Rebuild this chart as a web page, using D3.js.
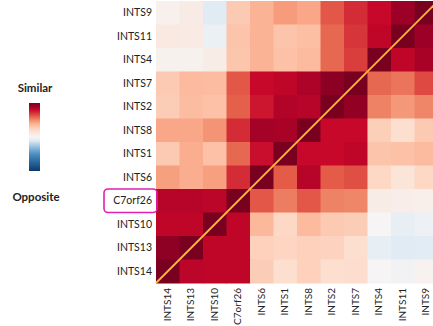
<!DOCTYPE html>
<html>
<head>
<meta charset="utf-8">
<script src="https://cdn.jsdelivr.net/npm/d3@7"></script>
<style>
  html, body { margin: 0; padding: 0; background: #fff; }
  svg { display: block; }
  text { font-family: Lato, "Open Sans", sans-serif; fill: #222; }
</style>
</head>
<body>
<svg id="chart" width="433" height="326"></svg>
<script>
// Row labels (top to bottom) and column labels (left to right)
const rowLabels = ["INTS9", "INTS11", "INTS4", "INTS7", "INTS2", "INTS8", "INTS1", "INTS6", "C7orf26", "INTS10", "INTS13", "INTS14"];
const colLabels = ["INTS14", "INTS13", "INTS10", "C7orf26", "INTS6", "INTS1", "INTS8", "INTS2", "INTS7", "INTS4", "INTS11", "INTS9"];

// Similarity scores, one array per row, in column order
const similarity = [
  [0.04, 0.08, -0.10, 0.28, 0.38, 0.45, 0.42, 0.62, 0.72, 0.80, 0.90, 1.00],
  [0.10, 0.09, -0.05, 0.31, 0.38, 0.31, 0.33, 0.58, 0.70, 0.82, 1.00, 0.90],
  [0.03, 0.03, 0.07, 0.30, 0.38, 0.32, 0.35, 0.58, 0.68, 1.00, 0.82, 0.87],
  [0.28, 0.35, 0.34, 0.62, 0.80, 0.82, 0.86, 0.95, 1.00, 0.58, 0.55, 0.65],
  [0.27, 0.34, 0.32, 0.60, 0.77, 0.85, 0.84, 1.00, 0.93, 0.52, 0.46, 0.51],
  [0.42, 0.42, 0.47, 0.72, 0.88, 0.87, 1.00, 0.80, 0.80, 0.26, 0.18, 0.28],
  [0.28, 0.40, 0.32, 0.58, 0.79, 1.00, 0.80, 0.80, 0.82, 0.31, 0.32, 0.35],
  [0.44, 0.40, 0.44, 0.72, 1.00, 0.61, 0.84, 0.61, 0.64, 0.22, 0.14, 0.22],
  [0.84, 0.84, 0.83, 1.00, 0.62, 0.53, 0.62, 0.52, 0.51, 0.07, 0.06, 0.05],
  [0.82, 0.82, 1.00, 0.82, 0.36, 0.22, 0.35, 0.28, 0.27, 0.00, -0.07, -0.04],
  [0.94, 1.00, 0.82, 0.82, 0.25, 0.23, 0.25, 0.24, 0.18, -0.07, -0.10, -0.09],
  [1.00, 0.83, 0.82, 0.82, 0.27, 0.18, 0.25, 0.18, 0.19, 0.00, -0.02, 0.02]
];

// Legend captions
const legendTop = "Similar";
const legendBottom = "Opposite";
const highlighted = "C7orf26";

// Diverging colour ramp: opposite (blue) -> neutral -> similar (red)
const colorStops = [-1, -0.5, -0.1, 0, 0.1, 0.2, 0.3, 0.4, 0.5, 0.6, 0.7, 0.8, 0.9, 1];
const colorRange = ["#0a3a70", "#4a90c2", "#e0ebf4", "#f6f4f4", "#f9e9e1", "#fddccb", "#fcc6ad",
                    "#fbae8f", "#f08a6a", "#e5604a", "#d6353a", "#c8082a", "#9c0026", "#7a0020"];
const color = d3.scaleLinear().domain(colorStops).range(colorRange).interpolate(d3.interpolateRgb).clamp(true);

const svg = d3.select("#chart");
const labelFont = "10px";

const x = d3.scaleBand().domain(colLabels).range([156, 438]).padding(0);
const y = d3.scaleBand().domain(rowLabels).range([1, 283]).padding(0);

const cells = [];
similarity.forEach((row, i) => row.forEach((v, j) => cells.push({ r: rowLabels[i], c: colLabels[j], v })));

svg.append("g").selectAll("rect")
  .data(cells)
  .join("rect")
  .attr("x", d => x(d.c))
  .attr("y", d => y(d.r))
  .attr("width", x.bandwidth() + 0.5)
  .attr("height", y.bandwidth() + 0.5)
  .attr("fill", d => color(d.v));

// Diagonal guide from the first column/last row to the last column/first row
svg.append("line")
  .attr("x1", x(colLabels[0]))
  .attr("y1", y(rowLabels[rowLabels.length - 1]) + y.bandwidth())
  .attr("x2", x(colLabels[colLabels.length - 1]) + x.bandwidth())
  .attr("y2", y(rowLabels[0]))
  .attr("stroke", "#f4c030")
  .attr("stroke-width", 1.8);

// Row axis
const yAxis = svg.append("g")
  .attr("transform", "translate(152,0)")
  .call(d3.axisLeft(y).tickSize(0).tickPadding(0));
yAxis.select(".domain").remove();
yAxis.selectAll("text").style("font-size", "10.5px").style("font-family", "Lato, 'Open Sans', sans-serif").attr("fill", "#222");

// Column axis, labels turned vertical
const xAxis = svg.append("g")
  .attr("transform", "translate(0,288)")
  .call(d3.axisBottom(x).tickSize(0).tickPadding(0));
xAxis.select(".domain").remove();
xAxis.selectAll("text")
  .style("font-size", labelFont)
  .style("font-family", "Lato, 'Open Sans', sans-serif")
  .attr("fill", "#222")
  .attr("transform", "rotate(-90)")
  .attr("dy", "0.32em")
  .attr("x", 0)
  .attr("y", 0)
  .style("text-anchor", "end");

// Box around the highlighted row label
const hy = y(highlighted);
svg.append("rect")
  .attr("x", 104)
  .attr("y", hy)
  .attr("width", 53)
  .attr("height", y.bandwidth())
  .attr("rx", 4)
  .attr("fill", "none")
  .attr("stroke", "#e020b0")
  .attr("stroke-width", 1.6);

// Colour legend
const defs = svg.append("defs");
const grad = defs.append("linearGradient")
  .attr("id", "legendGrad")
  .attr("x1", "0").attr("y1", "1").attr("x2", "0").attr("y2", "0");
colorStops.forEach(s => {
  grad.append("stop")
    .attr("offset", ((s + 1) / 2 * 100) + "%")
    .attr("stop-color", color(s));
});

const legendScale = d3.scaleLinear().domain([-1, 1]).range([171, 103]);
svg.append("rect")
  .attr("x", 29)
  .attr("y", legendScale(1))
  .attr("width", 11)
  .attr("height", legendScale(-1) - legendScale(1))
  .attr("fill", "url(#legendGrad)");

svg.append("text")
  .attr("x", 35).attr("y", 87)
  .attr("text-anchor", "middle")
  .attr("dominant-baseline", "central")
  .style("font-size", "11.5px").style("font-weight", "bold")
  .text(legendTop);

svg.append("text")
  .attr("x", 36).attr("y", 196)
  .attr("text-anchor", "middle")
  .attr("dominant-baseline", "central")
  .style("font-size", "11.5px").style("font-weight", "bold")
  .text(legendBottom);
</script>
</body>
</html>
